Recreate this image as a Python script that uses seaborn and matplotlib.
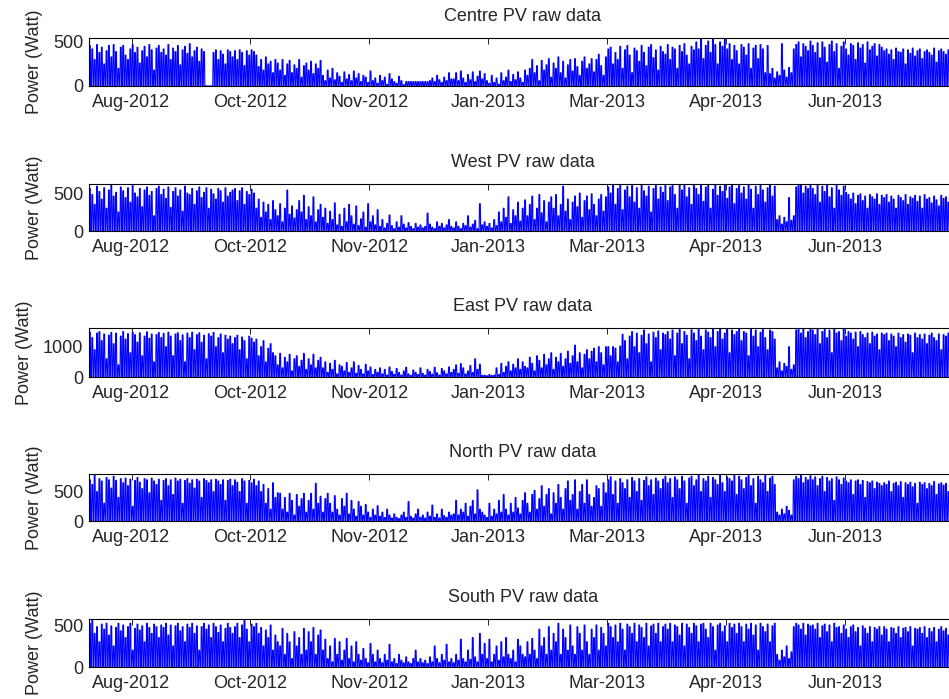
import pandas as pd
import seaborn as sns
import matplotlib.pyplot as plt
import matplotlib.dates as mdates

# daily peak power (W), 1 Aug 2012 .. 31 Jul 2013
start = '2012-08-01'
tick_dates = ['2012-08-19', '2012-10-08', '2012-11-27', '2013-01-16',
              '2013-03-07', '2013-04-26', '2013-06-15']
titles = ['Centre PV raw data', 'West PV raw data', 'East PV raw data',
          'North PV raw data', 'South PV raw data']
yticks = [[0, 500], [0, 500], [0, 1000], [0, 500], [0, 500]]
ytop = [545, 620, 1620, 800, 572]

centre = [
    460, 420, 300, 470, 380, 440, 250, 400, 460, 330, 470, 390, 200, 440, 460, 350, 300, 420, 470, 380, 440, 260, 400, 450, 330, 470, 410, 180, 430, 460, 380,
    420, 350, 470, 300, 430, 390, 460, 240, 410, 450, 370, 480, 330, 400, 440, 280, 420, 390, 0, 0, 0, 380, 410, 300, 400, 360, 250, 410, 390, 330,
    400, 300, 410, 380, 230, 400, 350, 410, 390, 350, 220, 300, 180, 330, 250, 280, 150, 300, 260, 180, 300, 120, 250, 290, 150, 240, 200, 300, 100, 230, 260,
    180, 280, 140, 250, 200, 290, 120, 60, 180, 90, 200, 70, 150, 110, 40, 160, 80, 130, 60, 170, 90, 140, 50, 120, 100, 40, 170, 60, 90, 30,
    120, 60, 100, 20, 140, 80, 50, 30, 110, 60, 15, 50, 50, 50, 50, 50, 50, 50, 50, 50, 50, 60, 90, 50, 120, 70, 40, 100, 60, 150, 80,
    80, 150, 60, 170, 90, 40, 130, 70, 160, 50, 110, 170, 80, 140, 60, 30, 120, 40, 90, 20, 150, 60, 100, 180, 50, 130, 70, 160, 90, 40, 180,
    120, 200, 300, 150, 230, 60, 290, 180, 240, 310, 100, 260, 200, 330, 150, 280, 90, 240, 300, 170, 310, 220, 120, 280, 330, 200, 250, 310,
    160, 300, 360, 230, 120, 330, 420, 440, 250, 380, 300, 450, 200, 410, 460, 350, 150, 430, 400, 280, 460, 380, 230, 440, 470, 320, 410, 180, 450, 390, 360,
    470, 300, 440, 420, 200, 460, 390, 480, 350, 250, 450, 410, 500, 420, 540, 310, 460, 510, 380, 540, 470, 250, 500, 450, 530, 420, 480, 300, 460, 400,
    250, 470, 440, 350, 480, 200, 430, 460, 310, 470, 420, 150, 460, 140, 200, 90, 160, 120, 480, 180, 100, 210, 150, 420, 470, 500, 330, 480, 450, 400, 510,
    460, 380, 490, 320, 500, 440, 270, 470, 510, 390, 480, 200, 450, 500, 420, 350, 480, 460, 300, 490, 430, 470, 260, 500, 410, 450, 480, 340, 470, 440,
    400, 420, 360, 410, 300, 430, 390, 380, 420, 250, 410, 370, 430, 340, 400, 420, 310, 390, 410, 380, 350, 430, 270, 400, 420, 390, 360, 410, 330, 400, 380,
]

west = [
    560, 480, 350, 590, 520, 420, 570, 300, 540, 600, 460, 510, 250, 580, 530, 440, 570, 380, 600, 500, 450, 560, 320, 540, 580, 470, 520, 200, 560, 590, 480,
    550, 430, 580, 310, 520, 570, 460, 540, 260, 590, 500, 480, 560, 350, 530, 580, 440, 510, 570, 300, 550, 490, 420, 560, 530, 380, 570, 460, 510, 540,
    560, 400, 530, 570, 350, 520, 480, 550, 500, 300, 420, 180, 380, 250, 350, 150, 400, 280, 200, 360, 120, 300, 540, 220, 330, 170, 280, 400, 250, 470, 150,
    320, 200, 450, 120, 280, 350, 180, 300, 100, 260, 150, 370, 80, 220, 60, 300, 120, 350, 200, 90, 330, 70, 160, 250, 50, 360, 120, 200, 80, 280,
    60, 150, 40, 100, 210, 70, 30, 120, 50, 200, 90, 40, 110, 60, 30, 100, 50, 80, 40, 60, 235, 90, 50, 30, 120, 60, 100, 40, 80, 150, 60,
    40, 120, 60, 30, 100, 70, 200, 50, 90, 140, 30, 360, 80, 120, 60, 100, 40, 150, 70, 250, 120, 300, 180, 450, 100, 280, 200, 380, 130, 300, 410,
    200, 350, 460, 150, 300, 480, 240, 400, 120, 380, 450, 300, 480, 200, 350, 590, 260, 420, 150, 380, 460, 320, 500, 180, 400, 460, 280, 490,
    350, 200, 420, 480, 260, 450, 580, 500, 620, 350, 560, 600, 280, 540, 590, 450, 600, 380, 570, 300, 610, 530, 460, 590, 250, 560, 600, 420, 580, 510, 600,
    400, 580, 610, 480, 300, 600, 540, 620, 450, 570, 350, 600, 560, 480, 620, 390, 580, 600, 300, 550, 610, 470, 590, 520, 600, 430, 580, 610, 360, 560,
    600, 500, 580, 420, 610, 550, 300, 590, 480, 600, 540, 380, 570, 610, 460, 590, 150, 200, 90, 180, 120, 440, 140, 200, 580, 610, 620, 500, 590, 560, 600,
    560, 480, 600, 380, 590, 520, 610, 450, 570, 300, 600, 540, 470, 590, 510, 480, 420, 500, 360, 470, 490, 400, 460, 300, 480, 450, 420, 490, 350, 470,
    440, 480, 380, 460, 420, 300, 470, 440, 400, 480, 350, 450, 430, 470, 390, 460, 300, 480, 420, 440, 370, 460, 410, 330, 470, 430, 450, 380, 460, 420, 440,
]

east = [
    1480, 1300, 900, 1450, 1500, 1200, 1420, 600, 1380, 1470, 1100, 1450, 400, 1350, 1500, 1250, 1430, 800, 1480, 1400, 1150, 1460, 700, 1350, 1490, 1280, 1420, 500, 1400, 1470, 1300,
    1440, 1000, 1480, 1350, 700, 1420, 1460, 1200, 1390, 500, 1450, 1300, 1480, 900, 1400, 1460, 1150, 1380, 600, 1430, 1350, 1470, 1000, 1300, 1420, 800, 1380, 1250, 1350, 1100,
    1300, 1380, 900, 1320, 1200, 600, 1350, 1280, 1150, 1250, 700, 1000, 1200, 500, 950, 1100, 800, 700, 400, 780, 300, 650, 500, 750, 200, 600, 700, 350, 550, 780, 250,
    600, 400, 750, 300, 550, 650, 300, 500, 150, 450, 250, 550, 100, 400, 350, 200, 480, 150, 300, 500, 120, 380, 250, 100, 420, 200, 330, 80, 250, 150,
    300, 100, 250, 60, 330, 180, 90, 280, 150, 60, 200, 320, 100, 50, 230, 150, 80, 300, 120, 60, 250, 180, 90, 320, 140, 60, 280, 200, 100, 330, 150,
    250, 400, 120, 440, 300, 100, 200, 380, 150, 600, 250, 420, 50, 60, 40, 80, 50, 60, 300, 80, 450, 150, 350, 500, 200, 420, 300, 600, 250, 500, 350,
    300, 650, 450, 200, 700, 550, 300, 750, 400, 600, 800, 250, 650, 500, 780, 350, 600, 850, 450, 700, 1050, 500, 800, 300, 750, 900, 600, 850,
    950, 500, 1000, 800, 400, 1000, 1000, 700, 1000, 950, 500, 1020, 1410, 1200, 600, 1350, 1500, 1000, 1450, 800, 1380, 1550, 1100, 1420, 500, 1480, 1300, 1520, 900, 1450, 1400,
    1500, 1250, 1550, 700, 1450, 1580, 1100, 1500, 1380, 600, 1560, 1450, 1200, 1600, 1350, 900, 1550, 1480, 1300, 1600, 1000, 1500, 1580, 1250, 1450, 1600, 800, 1550, 1400, 1500,
    1580, 1200, 1500, 1450, 700, 1600, 1350, 1550, 1000, 1480, 1600, 1300, 900, 1550, 1500, 1250, 300, 500, 200, 450, 350, 1000, 250, 400, 1550, 1600, 1450, 1580, 1300, 1500, 1600,
    1550, 1400, 1600, 1100, 1500, 1580, 1300, 1550, 800, 1600, 1450, 1500, 1200, 1580, 1350, 1500, 1450, 1250, 1480, 1000, 1500, 1400, 1300, 1450, 1100, 1480, 1350, 1420, 900, 1450,
    1400, 1450, 1200, 1420, 1350, 1000, 1450, 1300, 1400, 1150, 1420, 1380, 800, 1450, 1300, 1400, 1250, 1420, 1100, 1380, 1450, 1300, 1200, 1420, 900, 1400, 1350, 1450, 1250, 1380, 1400,
]

north = [
    700, 620, 780, 500, 720, 680, 300, 740, 700, 560, 760, 690, 400, 720, 650, 730, 600, 710, 250, 690, 740, 660, 550, 720, 700, 480, 730, 680, 620, 710, 350,
    690, 720, 600, 700, 450, 730, 680, 710, 300, 690, 720, 640, 700, 560, 710, 680, 400, 720, 690, 650, 700, 500, 710, 680, 620, 700, 350, 690, 710, 600,
    700, 660, 500, 720, 680, 300, 690, 650, 710, 600, 680, 500, 620, 300, 550, 200, 650, 400, 480, 470, 200, 400, 150, 470, 350, 100, 450, 250, 380, 470, 150,
    350, 470, 200, 640, 300, 420, 150, 380, 470, 300, 150, 430, 200, 100, 380, 250, 470, 120, 350, 200, 80, 330, 250, 100, 280, 150, 60, 200, 100, 260,
    80, 150, 60, 200, 100, 50, 120, 60, 40, 100, 150, 60, 330, 80, 50, 120, 200, 60, 100, 50, 150, 80, 270, 60, 120, 50, 200, 90, 60, 150, 100,
    120, 350, 100, 200, 150, 300, 80, 250, 350, 120, 530, 200, 150, 100, 60, 300, 80, 200, 120, 350, 150, 450, 200, 100, 300, 150, 400, 220, 120, 350, 480,
    300, 150, 450, 520, 200, 380, 600, 250, 450, 550, 120, 480, 300, 620, 400, 200, 550, 680, 350, 450, 700, 200, 500, 620, 300, 700, 450, 250,
    400, 600, 550, 250, 650, 480, 700, 750, 450, 680, 300, 720, 650, 550, 700, 400, 740, 680, 500, 720, 350, 690, 750, 600, 700, 450, 730, 680, 550, 710, 760,
    650, 720, 400, 750, 700, 550, 760, 680, 300, 730, 760, 600, 700, 780, 500, 720, 680, 760, 400, 740, 700, 620, 780, 650, 500, 750, 720, 680, 780, 450,
    760, 700, 550, 740, 780, 600, 720, 300, 760, 700, 650, 780, 500, 730, 760, 620, 150, 100, 200, 120, 250, 180, 100, 700, 760, 720, 780, 650, 740, 700, 770,
    700, 750, 600, 720, 760, 500, 740, 680, 720, 350, 750, 700, 620, 730, 680, 650, 700, 450, 680, 700, 620, 690, 400, 670, 650, 680, 550, 660, 640, 600,
    650, 620, 680, 500, 640, 660, 600, 670, 400, 650, 620, 660, 580, 640, 300, 660, 620, 650, 550, 640, 600, 670, 450, 630, 650, 610, 640, 500, 660, 620, 640,
]

south = [
    520, 570, 400, 480, 300, 510, 450, 520, 380, 490, 250, 470, 520, 430, 500, 350, 480, 520, 200, 460, 510, 440, 490, 300, 520, 470, 400, 510, 480, 350, 500,
    470, 520, 380, 500, 250, 490, 520, 430, 480, 300, 510, 470, 520, 400, 490, 200, 480, 520, 450, 500, 350, 520, 480, 410, 500, 300, 460, 520, 470, 400,
    480, 520, 350, 500, 570, 450, 300, 510, 480, 520, 400, 470, 250, 440, 350, 500, 200, 380, 300, 250, 460, 150, 400, 300, 100, 420, 250, 350, 150, 460, 200,
    420, 300, 470, 150, 380, 440, 200, 330, 100, 250, 60, 340, 150, 300, 80, 200, 340, 100, 250, 60, 300, 150, 80, 220, 100, 50, 280, 150, 60, 200,
    100, 50, 150, 80, 270, 60, 100, 40, 150, 80, 50, 120, 60, 40, 100, 200, 60, 100, 50, 80, 40, 120, 60, 250, 100, 50, 150, 80, 270, 60, 100,
    50, 150, 80, 330, 100, 60, 200, 90, 350, 120, 60, 400, 150, 280, 100, 330, 60, 150, 250, 80, 300, 120, 350, 150, 100, 200, 60, 330, 250, 150, 120,
    300, 150, 340, 200, 100, 450, 250, 350, 150, 480, 200, 400, 300, 520, 150, 450, 350, 200, 500, 250, 150, 480, 400, 200, 500, 300, 150, 450,
    350, 500, 200, 470, 400, 250, 520, 480, 350, 500, 300, 520, 450, 200, 510, 480, 400, 520, 300, 500, 470, 350, 520, 250, 490, 510, 400, 520, 300, 480, 510,
    450, 520, 300, 500, 480, 380, 520, 250, 510, 470, 400, 520, 490, 300, 510, 520, 450, 350, 520, 480, 200, 500, 520, 420, 490, 300, 520, 470, 510, 400,
    520, 480, 300, 510, 450, 520, 380, 500, 200, 520, 480, 420, 510, 300, 490, 520, 150, 80, 200, 120, 250, 100, 180, 480, 520, 500, 450, 520, 380, 510, 490,
    500, 450, 520, 350, 490, 510, 420, 500, 300, 520, 470, 480, 400, 500, 450, 350, 480, 500, 420, 470, 250, 490, 460, 400, 480, 300, 470, 450, 480, 380,
    480, 450, 300, 470, 460, 400, 480, 350, 460, 470, 420, 480, 250, 460, 450, 470, 400, 480, 350, 460, 420, 470, 300, 450, 480, 430, 460, 380, 470, 450, 440,
]

series = [centre, west, east, north, south]


def day_frame(peaks):
    # each day: dark at night, flat-ish top over the middle of the day
    days = pd.date_range(start, periods=len(peaks), freq='D')
    t, p = [], []
    for d, v in zip(days, peaks):
        for h, k in [(4, 0), (8, v), (16, v), (20, 0)]:
            t.append(d + pd.Timedelta(hours=h))
            p.append(k)
    return pd.DataFrame({'time': t, 'power': p})


sns.set_style('white')
plt.rcParams['font.family'] = ['Liberation Sans', 'DejaVu Sans']
plt.rcParams['font.size'] = 13

fig = plt.figure(figsize=(9.49, 6.99), dpi=100)
tops = [38, 184, 328, 474, 619]
bots = [86, 231, 377, 521, 667]
x0, x1 = 88.7, 956.7

for i in range(5):
    ax = fig.add_axes([x0 / 949, 1 - bots[i] / 699, (x1 - x0) / 949, (bots[i] - tops[i]) / 699])
    df = day_frame(series[i])
    sns.lineplot(data=df, x='time', y='power', ax=ax, color='#0000ff',
                 linewidth=0.8, estimator=None, sort=False)
    ax.set_xlim(pd.Timestamp('2012-08-01'), pd.Timestamp('2013-08-01'))
    ax.set_ylim(0, ytop[i])
    ax.set_yticks(yticks[i])
    ax.set_xticks(pd.to_datetime(tick_dates))
    ax.xaxis.set_major_formatter(mdates.DateFormatter('%b-%Y'))
    ax.tick_params(direction='in', length=4, width=0.6, top=True, right=True,
                   labelsize=13, color='black', pad=4)
    ax.tick_params(axis='x', pad=6)
    for s in ax.spines.values():
        s.set_color('black')
        s.set_linewidth(0.8)
    ax.set_xlabel('')
    ax.set_ylabel('Power (Watt)', fontsize=13, labelpad=7)
    ax.set_title(titles[i], fontsize=13, pad=12)

fig.savefig('out.png', dpi=100)
